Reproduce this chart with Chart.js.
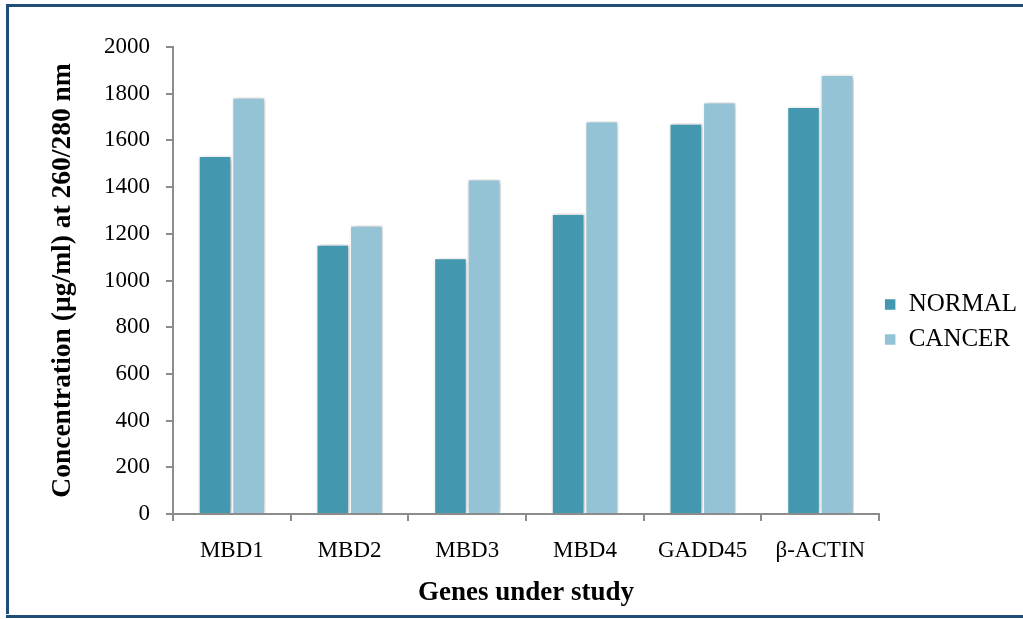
<!DOCTYPE html>
<html>
<head>
<meta charset="utf-8">
<script src="https://cdn.jsdelivr.net/npm/chart.js@4/dist/chart.umd.min.js"></script>
<style>
  html, body { margin: 0; padding: 0; background: #fff; overflow: hidden; }
  canvas { display: block; }
</style>
</head>
<body>
<canvas id="chart" width="1023" height="619"></canvas>
<script>
const genes = ['MBD1', 'MBD2', 'MBD3', 'MBD4', 'GADD45', 'β-ACTIN'];
const normalValues = [1535, 1155, 1097, 1287, 1673, 1745];
const cancerValues = [1785, 1237, 1435, 1683, 1764, 1882];
const seriesNames = ['NORMAL', 'CANCER'];
const yTicks = [0, 200, 400, 600, 800, 1000, 1200, 1400, 1600, 1800, 2000];

const serif = "'Liberation Serif', 'Times New Roman', serif";
const axisGray = '#8c8c8c';

// soft drop shadow behind the bars
const barShadow = {
  id: 'barShadow',
  beforeDatasetsDraw(chart) {
    const c = chart.ctx;
    c.save();
    c.shadowColor = 'rgba(0,0,0,0.3)';
    c.shadowBlur = 5;
    c.shadowOffsetX = 1.5;
    c.shadowOffsetY = 0.5;
  },
  afterDatasetsDraw(chart) {
    chart.ctx.restore();
  }
};

// nudge the legend a little closer to the plot
const legendNudge = {
  id: 'legendNudge',
  afterLayout(chart) {
    if (chart.legend) {
      chart.legend.left -= 5;
      chart.legend.right -= 5;
    }
  }
};

// dark blue frame on the top, left and bottom edges
const frame = {
  id: 'frame',
  afterDraw(chart) {
    const c = chart.ctx;
    const w = chart.width, h = chart.height;
    c.save();
    c.fillStyle = '#1f4e79';
    c.fillRect(6, 4, w - 6, 3);
    c.fillRect(6, 4, 3, h - 5 - 4);
    c.fillRect(6, h - 4, w - 6, 3);
    c.restore();
  }
};

new Chart(document.getElementById('chart'), {
  type: 'bar',
  data: {
    labels: genes,
    datasets: [
      { label: seriesNames[0], data: normalValues, backgroundColor: '#4398b0', borderColor: '#ffffff', borderWidth: 1.5 },
      { label: seriesNames[1], data: cancerValues, backgroundColor: '#93c3d5', borderColor: '#ffffff', borderWidth: 1.5 }
    ]
  },
  options: {
    responsive: false,
    animation: false,
    devicePixelRatio: 1,
    layout: { padding: { top: 47, left: 8, right: -9, bottom: 22 } },
    datasets: { bar: { categoryPercentage: 0.57, barPercentage: 1.0 } },
    plugins: {
      tooltip: { enabled: false },
      legend: {
        position: 'right',
        align: 'center',
        labels: {
          font: { family: serif, size: 25 },
          color: '#000',
          boxWidth: 12,
          boxHeight: 12,
          padding: 10
        }
      }
    },
    scales: {
      x: {
        grid: { display: true, drawOnChartArea: false, drawTicks: true, tickLength: 7, color: axisGray, lineWidth: 2, offset: true },
        border: { display: true, color: axisGray, width: 2 },
        ticks: { font: { family: serif, size: 23 }, color: '#000', padding: 16, maxRotation: 0 },
        title: { display: true, text: 'Genes under study', font: { family: serif, size: 27, weight: 'bold' }, color: '#000', padding: { top: 0, bottom: -12 } },
        afterFit(scale) { scale.height = 83; }
      },
      y: {
        min: 0, max: 2000,
        afterBuildTicks(scale) { scale.ticks = yTicks.map(v => ({ value: v })); },
        grid: { display: true, drawOnChartArea: false, drawTicks: true, tickLength: 7, color: axisGray, lineWidth: 2 },
        border: { display: true, color: axisGray, width: 2 },
        ticks: { font: { family: serif, size: 23 }, color: '#000', padding: 16, callback: v => String(v) },
        title: { display: true, text: 'Concentration (µg/ml) at 260/280 nm', font: { family: serif, size: 27.5, weight: 'bold' }, color: '#000', padding: { top: 38, bottom: 0 } },
        afterFit(scale) { scale.width = 165; }
      }
    }
  },
  plugins: [barShadow, legendNudge, frame]
});
</script>
</body>
</html>
